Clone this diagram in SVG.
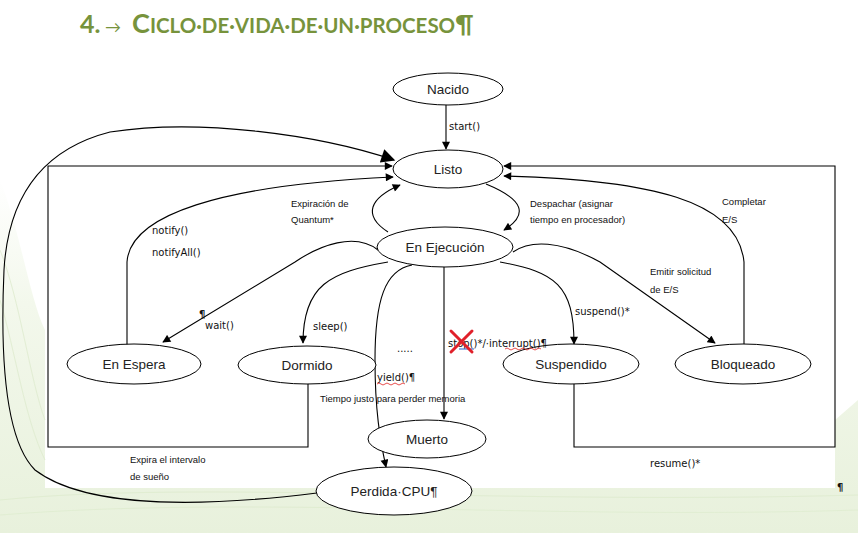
<svg xmlns="http://www.w3.org/2000/svg" width="858" height="533" viewBox="0 0 858 533">
<defs>
  <marker id="arr" viewBox="0 0 10 10" refX="9" refY="5" markerWidth="9" markerHeight="8" markerUnits="userSpaceOnUse" orient="auto">
    <path d="M0,0 L10,5 L0,10 z" fill="#000"/>
  </marker>
  <marker id="arrBig" viewBox="0 0 10 10" refX="9" refY="5" markerWidth="16" markerHeight="14" markerUnits="userSpaceOnUse" orient="auto">
    <path d="M0,0 L10,5 L0,10 z" fill="#000"/>
  </marker>
  <linearGradient id="bg" x1="0" y1="0" x2="0" y2="1">
    <stop offset="0" stop-color="#ffffff"/>
    <stop offset="0.35" stop-color="#f3f8ec"/>
    <stop offset="1" stop-color="#e8f1dc"/>
  </linearGradient>
</defs>
<style>
  .node ellipse { fill: #fff; stroke: #000; stroke-width: 1; }
  .node text { font-family: "Liberation Sans", Arial, sans-serif; font-size: 13.5px; fill: #222; text-anchor: middle; }
  .conn path, .conn line, .conn polyline { fill: none; stroke: #000; stroke-width: 1.1; }
  .lbl { font-family: "Liberation Sans", Arial, sans-serif; font-size: 9.5px; fill: #111; }
  .lbv { font-family: "DejaVu Sans", Verdana, sans-serif; font-size: 10px; fill: #111; }
  .title { font-family: Lato, "Liberation Sans", sans-serif; font-weight: bold; fill: #77933c; }
</style>
<rect width="858" height="533" fill="#fff"/>
<!-- faint green background pattern -->
<path d="M0,180 C20,230 30,300 45,330 L45,488 L835,488 L835,420 L858,400 L858,533 L0,533 Z" fill="url(#bg)"/>
<g fill="none" stroke="#dfeccf" stroke-width="1" opacity="0.8">
  <path d="M0,500 C200,480 500,505 858,495"/>
  <path d="M0,515 C250,495 550,520 858,510"/>
  <path d="M0,250 C20,300 30,380 45,420"/>
  <path d="M0,300 C15,350 25,420 45,460"/>
</g>

<!-- title -->
<text class="title" y="33"><tspan x="80" font-size="25">4.</tspan><tspan x="105" font-size="16" font-weight="normal">→</tspan><tspan x="132" font-size="27">C</tspan><tspan font-size="20.5">ICLO·DE·VIDA·DE·UN·PROCESO</tspan><tspan font-size="25">¶</tspan></text>

<!-- connectors -->
<g id="connectors" class="conn">
  <line x1="446" y1="105" x2="446" y2="149" marker-end="url(#arr)"/>
  <!-- Perdida CPU to Listo (outer curve) -->
  <path d="M317,493 C220,505 90,512 35,470 C5,440 0,360 4,270 C8,200 40,150 110,132 C200,118 320,135 394,160" marker-end="url(#arrBig)"/>
  <!-- Dormido -> Listo (rectangle left) -->
  <polyline points="308,383 308,447 48,447 48,166 392,166" marker-end="url(#arr)"/>
  <!-- Suspendido -> Listo (rectangle right) -->
  <polyline points="574,384 574,447 835,447 835,166 504,166" marker-end="url(#arr)"/>
  <!-- En Espera -> Listo notify -->
  <path d="M127,345 L127,262 C130,215 220,185 393,177" marker-end="url(#arr)"/>
  <!-- Bloqueado -> Listo -->
  <path d="M744,345 L744,262 C738,200 650,180 504,176" marker-end="url(#arr)"/>
  <!-- Expiración de Quantum -->
  <path d="M388,232 C362,215 370,198 400,185" marker-end="url(#arr)"/>
  <!-- Despachar -->
  <path d="M486,184 C525,200 528,215 504,230" marker-end="url(#arr)"/>
  <!-- wait -->
  <path d="M378,250 C355,232 320,245 295,262 L163,342" marker-end="url(#arr)"/>
  <!-- sleep -->
  <path d="M388,262 C330,272 303,285 303,343" marker-end="url(#arr)"/>
  <!-- stop / Muerto -->
  <line x1="444" y1="267" x2="444" y2="419" marker-end="url(#arr)"/>
  <!-- Perdida CPU -->
  <path d="M412,265 C385,270 375,300 375,360 C375,410 380,440 386,467" marker-end="url(#arr)"/>
  <!-- suspend -->
  <path d="M500,262 C555,272 574,285 574,344" marker-end="url(#arr)"/>
  <!-- Emitir solicitud -->
  <path d="M513,252 C530,240 560,240 600,262 L715,343" marker-end="url(#arr)"/>
</g>

<!-- nodes -->
<g id="nacido" class="node"><ellipse cx="448" cy="89" rx="55" ry="16"/><text x="448" y="94">Nacido</text></g>
<g id="listo" class="node"><ellipse cx="448" cy="169" rx="55" ry="19"/><text x="448" y="174">Listo</text></g>
<g id="ejecucion" class="node"><ellipse cx="445" cy="247" rx="68" ry="20"/><text x="445" y="252">En Ejecución</text></g>
<g id="espera" class="node"><ellipse cx="134" cy="364" rx="67" ry="20"/><text x="134" y="369">En Espera</text></g>
<g id="dormido" class="node"><ellipse cx="307" cy="365" rx="69" ry="19"/><text x="307" y="370">Dormido</text></g>
<g id="suspendido" class="node"><ellipse cx="571" cy="364" rx="68" ry="20"/><text x="571" y="369">Suspendido</text></g>
<g id="bloqueado" class="node"><ellipse cx="743" cy="364" rx="68" ry="20"/><text x="743" y="369">Bloqueado</text></g>
<g id="muerto" class="node"><ellipse cx="427" cy="439" rx="59" ry="19"/><text x="427" y="444">Muerto</text></g>
<g id="perdida" class="node"><ellipse cx="394" cy="491" rx="78" ry="24"/><text x="394" y="496">Perdida·CPU¶</text></g>

<!-- labels -->
<g id="labels">
  <text class="lbv" x="449" y="130">start()</text>
  <text class="lbl" x="291" y="207">Expiración de</text>
  <text class="lbl" x="291" y="223">Quantum*</text>
  <text class="lbl" x="530" y="207">Despachar (asignar</text>
  <text class="lbl" x="530" y="223">tiempo en procesador)</text>
  <text class="lbl" x="722" y="205">Completar</text>
  <text class="lbl" x="722" y="223">E/S</text>
  <text class="lbl" x="650" y="275">Emitir solicitud</text>
  <text class="lbl" x="650" y="293">de E/S</text>
  <text class="lbv" x="152" y="234">notify()</text>
  <text class="lbv" x="152" y="256">notifyAll()</text>
  <text class="lbv" x="199" y="318" font-weight="bold" font-size="13">¶</text>
  <text class="lbv" x="205" y="329">wait()</text>
  <text class="lbv" x="313" y="330">sleep()</text>
  <text class="lbv" x="397" y="352">.....</text>
  <text class="lbv" x="448" y="347">stop()*/·interrupt()¶</text>
  <path d="M505,349 q2,-2 4,0 t4,0 t4,0 t4,0 t4,0 t4,0 t4,0 t4,0 t4,0" fill="none" stroke="#e02020" stroke-width="0.8"/>
  <line x1="459" y1="349" x2="474" y2="349" stroke="#4a7bd4" stroke-width="1.2"/>
  <g stroke="#e0202a" stroke-width="3" stroke-linecap="round">
    <line x1="451" y1="331" x2="472" y2="352"/>
    <line x1="472" y1="331" x2="451" y2="352"/>
  </g>
  <text class="lbv" x="377" y="381">yield()¶</text>
  <path d="M377,384 q2,-2 4,0 t4,0 t4,0 t4,0 t4,0 t4,0 t4,0" fill="none" stroke="#e02020" stroke-width="0.8"/>
  <text class="lbl" x="320" y="402" font-size="9">Tiempo justo para perder memoria</text>
  <text class="lbv" x="575" y="315">suspend()*</text>
  <text class="lbl" x="130" y="463">Expira el intervalo</text>
  <text class="lbl" x="130" y="480">de sueño</text>
  <text class="lbv" x="650" y="467">resume()*</text>
  <text class="lbv" x="837" y="491" font-weight="bold" font-size="13">¶</text>
</g>
</svg>
